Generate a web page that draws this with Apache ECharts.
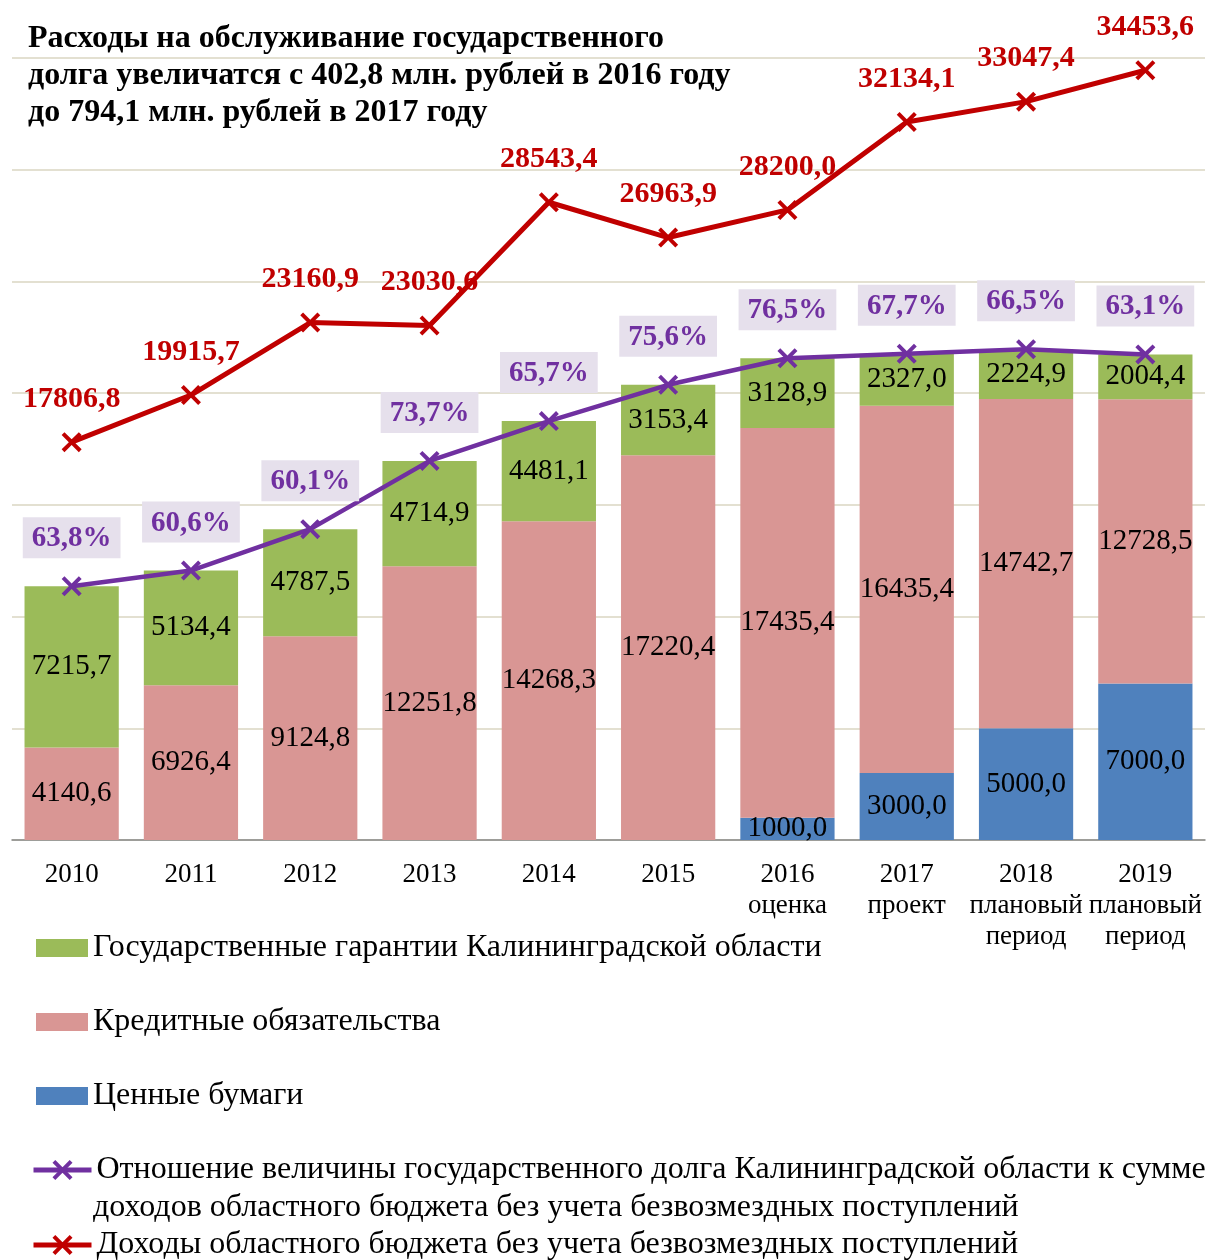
<!DOCTYPE html>
<html>
<head>
<meta charset="utf-8">
<title>Расходы на обслуживание государственного долга</title>
<script src="https://cdn.jsdelivr.net/npm/echarts@6/dist/echarts.min.js"></script>
<style>
  html, body { margin: 0; padding: 0; background: #fff; }
  #chart { width: 1206px; height: 1260px; }
</style>
</head>
<body>
<div id="chart"></div>
<script>
// категории (годы)
var years = ['2010', '2011', '2012', '2013', '2014', '2015',
  '2016\nоценка', '2017\nпроект', '2018\nплановый\nпериод', '2019\nплановый\nпериод'];

// структура долга, млн. руб.
var securities = [null, null, null, null, null, null, 1000.0, 3000.0, 5000.0, 7000.0];
var credits    = [4140.6, 6926.4, 9124.8, 12251.8, 14268.3, 17220.4, 17435.4, 16435.4, 14742.7, 12728.5];
var guarantees = [7215.7, 5134.4, 4787.5, 4714.9, 4481.1, 3153.4, 3128.9, 2327.0, 2224.9, 2004.4];

// отношение долга к доходам, %
var debtRatio = [63.8, 60.6, 60.1, 73.7, 65.7, 75.6, 76.5, 67.7, 66.5, 63.1];

// доходы без безвозмездных поступлений, млн. руб.
var income = [17806.8, 19915.7, 23160.9, 23030.6, 28543.4, 26963.9, 28200.0, 32134.1, 33047.4, 34453.6];

var names = {
  gar: 'Государственные гарантии Калининградской области',
  cred: 'Кредитные обязательства',
  sec: 'Ценные бумаги',
  ratio: 'Отношение величины государственного долга Калининградской области к сумме доходов областного бюджета без учета безвозмездных поступлений',
  inc: 'Доходы областного бюджета без учета безвозмездных поступлений'
};

// линия процентов стоит на вершине столбика (сумма долга)
var debtTotal = years.map(function (y, i) {
  return (securities[i] || 0) + credits[i] + guarantees[i];
});

var FONT = '"Liberation Serif", "Times New Roman", serif';
var crossPath = 'path://M0,2.8L2.8,0L10,7.2L17.2,0L20,2.8L12.8,10L20,17.2L17.2,20L10,12.8L2.8,20L0,17.2L7.2,10Z';

function fmt(v) {
  return v.toFixed(1).replace('.', ',');
}

var barLabel = {
  show: true,
  position: 'inside',
  color: '#000',
  fontFamily: FONT,
  fontSize: 29,
  formatter: function (p) { return p.value == null ? '' : fmt(p.value); }
};

function legendAt(name, top, isLine, fmtFn) {
  var lg = {
    data: [name],
    left: isLine ? 31 : 36,
    top: top,
    padding: 0,
    itemWidth: isLine ? 58 : 52,
    itemHeight: isLine ? 25 : 18,
    selectedMode: false,
    formatter: fmtFn,
    textStyle: { fontFamily: FONT, fontSize: 32, lineHeight: 36, color: '#000' }
  };
  if (isLine) lg.lineStyle = { width: 5 };
  else lg.icon = 'rect';
  return lg;
}

var chart = echarts.init(document.getElementById('chart'));
chart.setOption({
  animation: false,
  backgroundColor: '#fff',
  title: {
    text: 'Расходы на обслуживание государственного\nдолга увеличатся с 402,8 млн. рублей в 2016 году\nдо 794,1 млн. рублей в 2017 году',
    left: 28,
    top: 20,
    padding: 0,
    textStyle: { fontFamily: FONT, fontSize: 32, fontWeight: 'bold', lineHeight: 37, color: '#000' }
  },
  legend: [
    legendAt(names.gar, 930, false),
    legendAt(names.cred, 1004, false),
    legendAt(names.sec, 1078, false),
    legendAt(names.ratio, 1152, true, function () {
      return 'Отношение величины государственного долга Калининградской области к сумме';
    }),
    legendAt(names.inc, 1227, true)
  ],
  graphic: [{
    type: 'text',
    left: 93,
    top: 1192,
    style: {
      text: 'доходов областного бюджета без учета безвозмездных поступлений',
      font: '32px ' + FONT,
      fill: '#000'
    }
  }],
  grid: { left: 12, right: 1, top: 58, bottom: 420, containLabel: false },
  xAxis: {
    type: 'category',
    data: years,
    axisLine: { lineStyle: { color: '#868686', width: 1.5 } },
    axisTick: { length: 8, lineStyle: { color: '#868686', width: 1.5 } },
    axisLabel: { interval: 0, color: '#000', fontFamily: FONT, fontSize: 27, lineHeight: 31, margin: 19 }
  },
  yAxis: {
    type: 'value',
    min: 0,
    max: 35000,
    interval: 5000,
    axisLabel: { show: false },
    axisLine: { show: false },
    axisTick: { show: false },
    splitLine: { lineStyle: { color: '#DAD6C2', width: 1.5 } }
  },
  series: [
    {
      name: names.sec, type: 'bar', stack: 'debt', barWidth: '79%',
      itemStyle: { color: '#4F81BD' }, label: barLabel, data: securities
    },
    {
      name: names.cred, type: 'bar', stack: 'debt', barWidth: '79%',
      itemStyle: { color: '#D99694' }, label: barLabel, data: credits
    },
    {
      name: names.gar, type: 'bar', stack: 'debt', barWidth: '79%',
      itemStyle: { color: '#9BBB59' }, label: barLabel, data: guarantees
    },
    {
      name: names.ratio, type: 'line', z: 5,
      symbol: crossPath, symbolSize: 20,
      itemStyle: { color: '#7030A0' },
      lineStyle: { color: '#7030A0', width: 4.5 },
      label: {
        show: true, position: 'top', distance: 18,
        color: '#7030A0', fontFamily: FONT, fontSize: 29, fontWeight: 'bold',
        backgroundColor: '#E6E0EC', padding: [7, 9, 5, 9],
        formatter: function (p) { return fmt(debtRatio[p.dataIndex]) + '%'; }
      },
      data: debtTotal
    },
    {
      name: names.inc, type: 'line', z: 6,
      symbol: crossPath, symbolSize: 20,
      itemStyle: { color: '#C00000' },
      lineStyle: { color: '#C00000', width: 5 },
      label: {
        show: true, position: 'top', distance: 18,
        color: '#C00000', fontFamily: FONT, fontSize: 30, fontWeight: 'bold',
        formatter: function (p) { return fmt(p.value); }
      },
      data: income
    }
  ]
});
</script>
</body>
</html>
